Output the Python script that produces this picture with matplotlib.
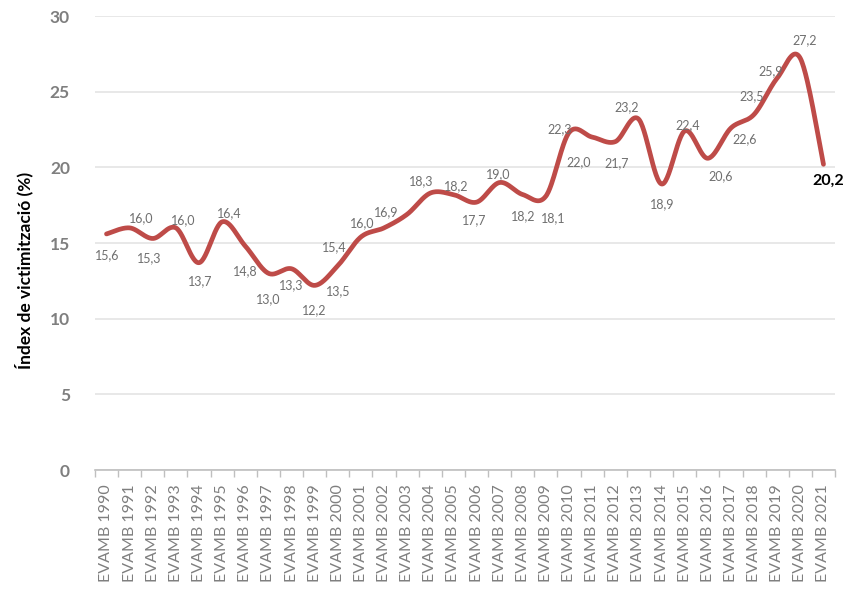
import matplotlib
matplotlib.use("Agg")
import matplotlib.pyplot as plt
import numpy as np

plt.rcParams["font.family"] = ["Lato", "DejaVu Sans"]

# data
years = list(range(1990, 2022))
categories = ["EVAMB %d" % y for y in years]
values = [15.6, 16.0, 15.3, 16.0, 13.7, 16.4, 14.8, 13.0, 13.3, 12.2,
          13.5, 15.4, 16.0, 16.9, 18.3, 18.2, 17.7, 19.0, 18.2, 18.1,
          22.3, 22.0, 21.7, 23.2, 18.9, 22.4, 20.6, 22.6, 23.5, 25.9,
          27.2, 20.2]

# label offsets from each point, in pixels (right, down)
label_offsets = [(1, 21), (12, -10), (-4, 20), (7, -8), (1, 18), (7, -9),
                 (0, 25), (0, 26), (0, 16), (0, 25), (0, 25), (-27, 10),
                 (-22, -5), (-21, -2), (-9, -12), (3, -8), (-2, 18), (-1, -8),
                 (0, 22), (7, 22), (-9, -3), (-14, 25), (1, 22), (-12, -12),
                 (1, 20), (3, -6), (13, 18), (14, 11), (-2, -18), (-7, -7),
                 (4, -18), (5, 16)]

LINE = "#BE4B48"
GRAY = "#7F7F7F"


def smooth(xs, ys, n=30):
    # Bezier smoothing like a spreadsheet "smoothed line"
    x = np.asarray(xs, float)
    y = np.asarray(ys, float)
    px = np.concatenate([[x[0]], x, [x[-1]]])
    py = np.concatenate([[y[0]], y, [y[-1]]])
    outx, outy = [], []
    t = np.linspace(0, 1, n)
    for i in range(1, len(px) - 2):
        p0 = np.array([px[i], py[i]])
        p3 = np.array([px[i + 1], py[i + 1]])
        c1 = p0 + (np.array([px[i + 1], py[i + 1]]) - np.array([px[i - 1], py[i - 1]])) / 6
        c2 = p3 - (np.array([px[i + 2], py[i + 2]]) - np.array([px[i], py[i]])) / 6
        b = ((1 - t) ** 3)[:, None] * p0 + (3 * (1 - t) ** 2 * t)[:, None] * c1 \
            + (3 * (1 - t) * t ** 2)[:, None] * c2 + (t ** 3)[:, None] * p3
        outx.extend(b[:, 0])
        outy.extend(b[:, 1])
    return outx, outy


fig = plt.figure(figsize=(8.63, 5.91), dpi=100)
ax = fig.add_axes([0.110, 0.2047, 0.8576, 0.7682])

xpos = np.arange(len(values))
sx, sy = smooth(xpos, values)
ax.plot(sx, sy, color=LINE, lw=3.4, solid_capstyle="round", zorder=3)

for i, (v, (dx, dy)) in enumerate(zip(values, label_offsets)):
    txt = ("%.1f" % v).replace(".", ",")
    if i == len(values) - 1:
        ax.annotate(txt, (xpos[i], v), xytext=(dx * 0.72, -dy * 0.72),
                    textcoords="offset points", ha="center", va="center",
                    fontsize=11.5, fontweight="bold", color="black", zorder=4)
    else:
        ax.annotate(txt, (xpos[i], v), xytext=(dx * 0.72, -dy * 0.72),
                    textcoords="offset points", ha="center", va="center",
                    fontsize=9, color="#6F6F6F", zorder=4)

ax.set_xlim(-0.5, len(values) - 0.5)
ax.set_ylim(0, 30)
ax.set_yticks(range(0, 31, 5))
ax.yaxis.grid(True, color="#E6E6E6", lw=1.3)
ax.set_axisbelow(True)

ax.set_xticks(xpos)
ax.set_xticklabels(categories, rotation=90, fontsize=11.5, color=GRAY)
ax.set_xticks(np.arange(-0.5, len(values)), minor=True)
ax.tick_params(axis="x", which="major", length=0, pad=10)
ax.tick_params(axis="x", which="minor", length=5, color="#BFBFBF", width=1)
ax.tick_params(axis="y", length=0, pad=18, labelsize=12.5, labelcolor=GRAY)
for lab in ax.get_yticklabels():
    lab.set_fontweight("bold")

for s in ["top", "right", "left"]:
    ax.spines[s].set_visible(False)
ax.spines["bottom"].set_color("#BFBFBF")
ax.spines["bottom"].set_linewidth(1.2)

ax.set_ylabel("Índex de victimització (%)", fontsize=12.5, fontweight="bold",
              color="black")
ax.yaxis.set_label_coords(-0.083, 0.44)

fig.savefig("out.png", dpi=100)
